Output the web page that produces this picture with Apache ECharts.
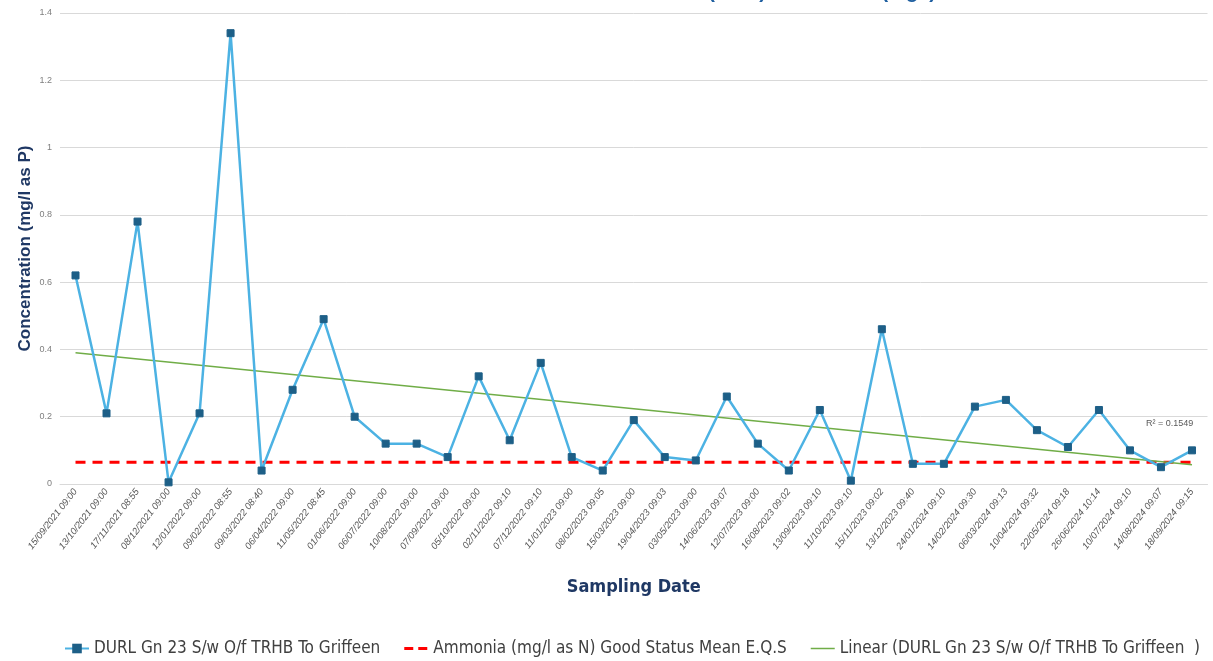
<!DOCTYPE html>
<html>
<head>
<meta charset="utf-8">
<script src="https://cdn.jsdelivr.net/npm/echarts@6/dist/echarts.min.js"></script>
<style>html,body{margin:0;padding:0;background:#fff;}#c{width:1213px;height:661px;}</style>
</head>
<body>
<div id="c"></div>
<script>
const categories = [
"15/09/2021 09:00","13/10/2021 09:00","17/11/2021 08:55","08/12/2021 09:00","12/01/2022 09:00",
"09/02/2022 08:55","09/03/2022 08:40","06/04/2022 09:00","11/05/2022 08:45","01/06/2022 09:00",
"06/07/2022 09:00","10/08/2022 09:00","07/09/2022 09:00","05/10/2022 09:00","02/11/2022 09:10",
"07/12/2022 09:10","11/01/2023 09:00","08/02/2023 09:05","15/03/2023 09:00","19/04/2023 09:03",
"03/05/2023 09:00","14/06/2023 09:07","12/07/2023 09:00","16/08/2023 09:02","13/09/2023 09:10",
"11/10/2023 09:10","15/11/2023 09:02","13/12/2023 09:40","24/01/2024 09:10","14/02/2024 09:30",
"06/03/2024 09:13","10/04/2024 09:32","22/05/2024 09:18","26/06/2024 10:14","10/07/2024 09:10",
"14/08/2024 09:07","18/09/2024 09:15"];
const concentration = [0.62,0.21,0.78,0.005,0.21,1.34,0.04,0.28,0.49,0.20,
0.12,0.12,0.08,0.32,0.13,0.36,0.08,0.04,0.19,0.08,
0.07,0.26,0.12,0.04,0.22,0.01,0.46,0.06,0.06,0.23,
0.25,0.16,0.11,0.22,0.10,0.05,0.10];
const eqsValue = 0.065;
const trendStart = 0.39;
const trendEnd = 0.057;
const rSquaredText = "R\u00B2 = 0.1549";
const yTicks = {min: 0, max: 1.4, interval: 0.2};
const seriesNames = ["DURL Gn 23 S/w O/f TRHB To Griffeen",
  "Ammonia (mg/l as N) Good Status Mean E.Q.S",
  "Linear (DURL Gn 23 S/w O/f TRHB To Griffeen  )"];

const n = categories.length;
const eqsData = categories.map((c, i) => (i === 0 || i === n - 1) ? eqsValue : null);
const trendData = categories.map((c, i) => i === 0 ? trendStart : (i === n - 1 ? trendEnd : null));

const narrow = "'Liberation Sans Narrow','DejaVu Sans Condensed','Arial Narrow',sans-serif";
const dashIcon = 'path://M0,0L24,0L24,0.001Z M0,4.5h9v3h-9z M14,4.5h9v3h-9z M0,12L24,12L24,12.001Z';
const solidIcon = 'path://M0,0L24,0L24,0.001Z M0,5.2h24v1.6h-24z M0,12L24,12L24,12.001Z';

const chart = echarts.init(document.getElementById('c'), null, {renderer: 'canvas'});
chart.setOption({
  animation: false,
  backgroundColor: '#ffffff',
  graphic: [
    {type: 'text', x: 766, y: 2, style: {text: 'DURL Gn 23 Total Reactive (MRP)', font: 'bold 20px Liberation Sans', fill: '#1f5fa0', align: 'right', verticalAlign: 'bottom'}},
    {type: 'text', x: 936, y: 2, style: {text: 'Trend (mg/l)', font: 'bold 20px Liberation Sans', fill: '#1f5fa0', align: 'right', verticalAlign: 'bottom'}}
  ],
  grid: {left: 60, right: 5.5, top: 13, bottom: 177, containLabel: false},
  legend: {
    bottom: -1, left: 64, padding: [5, 0, 5, 0], itemGap: 24, itemWidth: 24, itemHeight: 12,
    textStyle: {fontFamily: narrow, fontSize: 17, color: '#404040'},
    data: [
      {name: seriesNames[0]},
      {name: seriesNames[1], icon: dashIcon, itemStyle: {color: '#ff0000'}},
      {name: seriesNames[2], icon: solidIcon, itemStyle: {color: '#70ad47'}}
    ]
  },
  xAxis: {
    type: 'category', data: categories, boundaryGap: true,
    name: 'Sampling Date', nameLocation: 'middle', nameGap: 94,
    nameTextStyle: {fontFamily: narrow, fontWeight: 'bold', fontSize: 18, color: '#1f3864'},
    axisLine: {lineStyle: {color: '#d9d9d9', width: 1}},
    axisTick: {show: false},
    axisLabel: {interval: 0, rotate: 52, fontSize: 9.5, color: '#595959', fontFamily: 'Liberation Sans', fontStyle: 'italic', margin: 6}
  },
  yAxis: {
    type: 'value', min: yTicks.min, max: yTicks.max, interval: yTicks.interval,
    name: 'Concentration (mg/l as P)', nameLocation: 'middle', nameGap: 26, nameMoveOverlap: false,
    nameTextStyle: {fontFamily: 'Liberation Sans', fontWeight: 'bold', fontSize: 17, color: '#1f3864'},
    axisLine: {show: false}, axisTick: {show: false},
    axisLabel: {fontSize: 9, color: '#7f7f7f', fontFamily: 'Liberation Sans', margin: 8},
    splitLine: {lineStyle: {color: '#d9d9d9', width: 1}}
  },
  series: [
    {
      name: seriesNames[0], type: 'line', data: concentration,
      symbol: 'rect', symbolSize: 7,
      lineStyle: {color: '#4cb2e3', width: 2.5},
      itemStyle: {color: '#1d5f87', borderColor: '#1d5f87'},
      z: 3
    },
    {
      name: seriesNames[1], type: 'line', data: eqsData, connectNulls: true,
      symbol: 'none',
      lineStyle: {color: '#ff0000', width: 3, type: [10, 7]},
      itemStyle: {color: '#ff0000'},
      z: 2
    },
    {
      name: seriesNames[2], type: 'line', data: trendData, connectNulls: true,
      symbol: 'none',
      lineStyle: {color: '#70ad47', width: 1.5},
      itemStyle: {color: '#70ad47'},
      endLabel: {show: true, formatter: rSquaredText, fontSize: 9, color: '#595959', fontFamily: 'Liberation Sans', offset: [-54, -41]},
      z: 2
    }
  ]
});
</script>
</body>
</html>
